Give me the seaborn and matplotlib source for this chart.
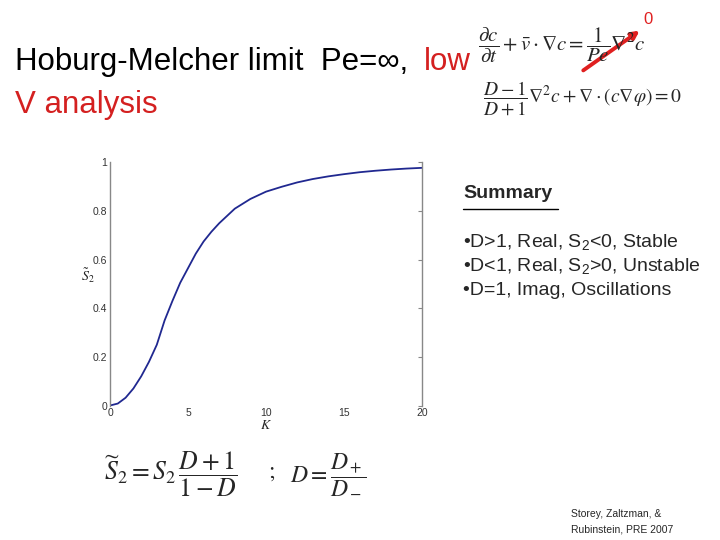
import pandas as pd
import seaborn as sns
import matplotlib.pyplot as plt
from matplotlib.patches import FancyArrowPatch

# growth-rate curve (K vs S2)
k_values = [0, 0.5, 1, 1.5, 2, 2.5, 3, 3.5, 4, 4.5, 5, 5.5, 6, 6.5, 7, 7.5, 8, 8.5, 9,
            10, 11, 12, 13, 14, 15, 16, 17, 18, 19, 20]
s2_values = [0, 0.008, 0.032, 0.07, 0.12, 0.18, 0.25, 0.35, 0.43, 0.505, 0.565, 0.625, 0.675, 0.715,
             0.75, 0.78, 0.81, 0.83, 0.85, 0.88, 0.90, 0.918, 0.932, 0.943, 0.952, 0.96, 0.966,
             0.971, 0.975, 0.978]
x_ticks = [0, 5, 10, 15, 20]
y_ticks = [0, 0.2, 0.4, 0.6, 0.8, 1]
y_tick_labels = ['0', '0.2', '0.4', '0.6', '0.8', '1']

summary_lines = [r'•D>1, Real, S$_{\mathit{2}}$<0, Stable',
                 r'•D<1, Real, S$_{\mathit{2}}$>0, Unstable',
                 r'•D=1, Imag, Oscillations']

sns.set_style('white')
plt.rcParams['font.family'] = ['Liberation Sans', 'DejaVu Sans']
plt.rcParams['mathtext.fontset'] = 'custom'
plt.rcParams['mathtext.rm'] = 'Liberation Sans'
plt.rcParams['mathtext.it'] = 'Liberation Sans:italic'

df = pd.DataFrame({'K': k_values, 'S2': s2_values})

fig = plt.figure(figsize=(7.2, 5.4), dpi=100)
ax = fig.add_axes([110 / 720, 1 - 405.5 / 540, 312 / 720, 243 / 540])

sns.lineplot(data=df, x='K', y='S2', ax=ax, color='#202890', linewidth=1.3)
ax.set_xlim(0, 20)
ax.set_ylim(0, 1)
ax.set_xticks(x_ticks)
ax.set_xticklabels([str(t) for t in x_ticks])
ax.set_yticks(y_ticks)
ax.set_yticklabels(y_tick_labels)
ax.tick_params(direction='in', length=3, labelsize=7.5, labelcolor='#333333', color='#888888',
               right=True, pad=2)
ax.set_xlabel('$K$', fontsize=10, labelpad=0, math_fontfamily='stix')
ax.set_ylabel(r'$\tilde{S}_2$', fontsize=10, rotation=0, va='center', ha='center', math_fontfamily='stix')
ax.yaxis.set_label_coords(-0.07, 0.535)
for side in ['top', 'bottom']:
    ax.spines[side].set_visible(False)
for side in ['left', 'right']:
    ax.spines[side].set_color('#888888')
    ax.spines[side].set_linewidth(1)

# title text (two colours)
fig.text(15 / 720, 1 - 70 / 540, 'Hoburg-Melcher limit  Pe=∞,', fontsize=22.5, color='black',
         va='baseline')
fig.text(424 / 720, 1 - 70 / 540, 'low', fontsize=22.5, color='#d42020', va='baseline')
fig.text(15 / 720, 1 - 113 / 540, 'V analysis', fontsize=22.5, color='#d42020', va='baseline')

# equations
fig.text(478 / 720, 1 - 45 / 540, r'$\dfrac{\partial c}{\partial t}+\bar{v}\cdot\nabla c=\dfrac{1}{Pe}\nabla^2 c$',
         fontsize=15, va='center', math_fontfamily='stix')
fig.text(483 / 720, 1 - 98 / 540, r'$\dfrac{D-1}{D+1}\nabla^2 c+\nabla\cdot\left(c\nabla\varphi\right)=0$',
         fontsize=14, va='center', math_fontfamily='stix')
fig.add_artist(FancyArrowPatch(
    (581 / 720, 1 - 72 / 540), (642 / 720, 1 - 29 / 540), transform=fig.transFigure,
    arrowstyle='-|>', mutation_scale=11, color='#e02020', linewidth=2.8))
fig.text(648 / 720, 1 - 20 / 540, '0', fontsize=12, color='#e02020', ha='center', va='center')

fig.text(104 / 720, 1 - 474 / 540, r'$\widetilde{S}_2=S_2\,\dfrac{D+1}{1-D}$', fontsize=18.5, va='center',
         math_fontfamily='stix')
fig.text(268 / 720, 1 - 472 / 540, r'$;$', fontsize=17, va='center', math_fontfamily='stix')
fig.text(290 / 720, 1 - 474 / 540, r'$D=\dfrac{D_+}{D_-}$', fontsize=17, va='center', math_fontfamily='stix')

# summary box
fig.text(463 / 720, 1 - 198 / 540, 'Summary', fontsize=14, fontweight='bold', va='baseline')
fig.add_artist(plt.Line2D([463 / 720, 558 / 720], [1 - 209 / 540, 1 - 209 / 540], color='black', linewidth=1))
for i, line in enumerate(summary_lines):
    fig.text(463 / 720, 1 - (247 + 24 * i) / 540, line, fontsize=14, va='baseline')

fig.text(571 / 720, 1 - 517 / 540, 'Storey, Zaltzman, &', fontsize=7.5, va='baseline')
fig.text(571 / 720, 1 - 533 / 540, 'Rubinstein, PRE 2007', fontsize=7.5, va='baseline')

plt.savefig('out.png', dpi=100)
